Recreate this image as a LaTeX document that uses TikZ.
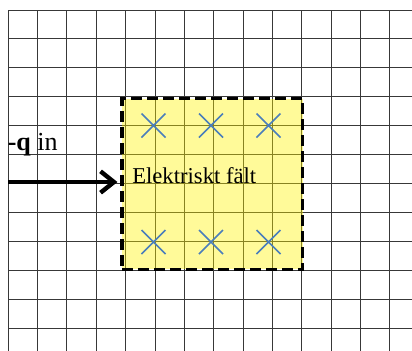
\documentclass[tikz,border=0pt]{standalone}
\usepackage{fontspec}
\setmainfont{Liberation Serif}
\usetikzlibrary{arrows.meta,positioning}
\definecolor{kryssbla}{RGB}{74,126,187}

\begin{document}
\begin{tikzpicture}[x=0.75pt,y=-0.75pt,
	rutnat/.style={line width=0.75pt, black!78},
	kryss/.style={kryssbla, line width=1.3pt},
	omrade/.style={draw, line width=2.3pt, dash pattern=on 8pt off 4pt,
		fill=yellow, fill opacity=0.4, draw opacity=1, inner sep=0pt,
		minimum width=135.4pt, minimum height=127.9pt}]
	\useasboundingbox (0,0) rectangle (412,351);
		\draw [rutnat] \foreach \n in {0,...,11} {(8.3,10+28.95*\n) -- (412,10+28.95*\n)};
		\draw [rutnat] \foreach \m in {0,...,13} {(8.3+29.35*\m,10) -- (8.3+29.35*\m,351)};
	\node [omrade] (falt) at (212.3,183.8) {};
		\draw [kryss] \foreach \x in {153.5,211,268.5} \foreach \y in {125.5,242}
		{(\x-12,\y-12) -- (\x+12,\y+12) (\x-12,\y+12) -- (\x+12,\y-12)};
	\node [anchor=base west, inner sep=0pt, font=\fontsize{17}{19}\selectfont] (text) at (132,183) {Elektriskt f\"alt};
	\node [anchor=base west, inner sep=0pt, font=\fontsize{19.5}{22}\selectfont] (laddning) at (7.5,150) {\textbf{-q} in};
	\coordinate (start) at (8.3,182);
	\draw [line width=3.3pt, -{Straight Barb[length=10pt, width=16pt]}, shorten >=2.3pt] (start) -- (start -| falt.west);
\end{tikzpicture}
\end{document}
